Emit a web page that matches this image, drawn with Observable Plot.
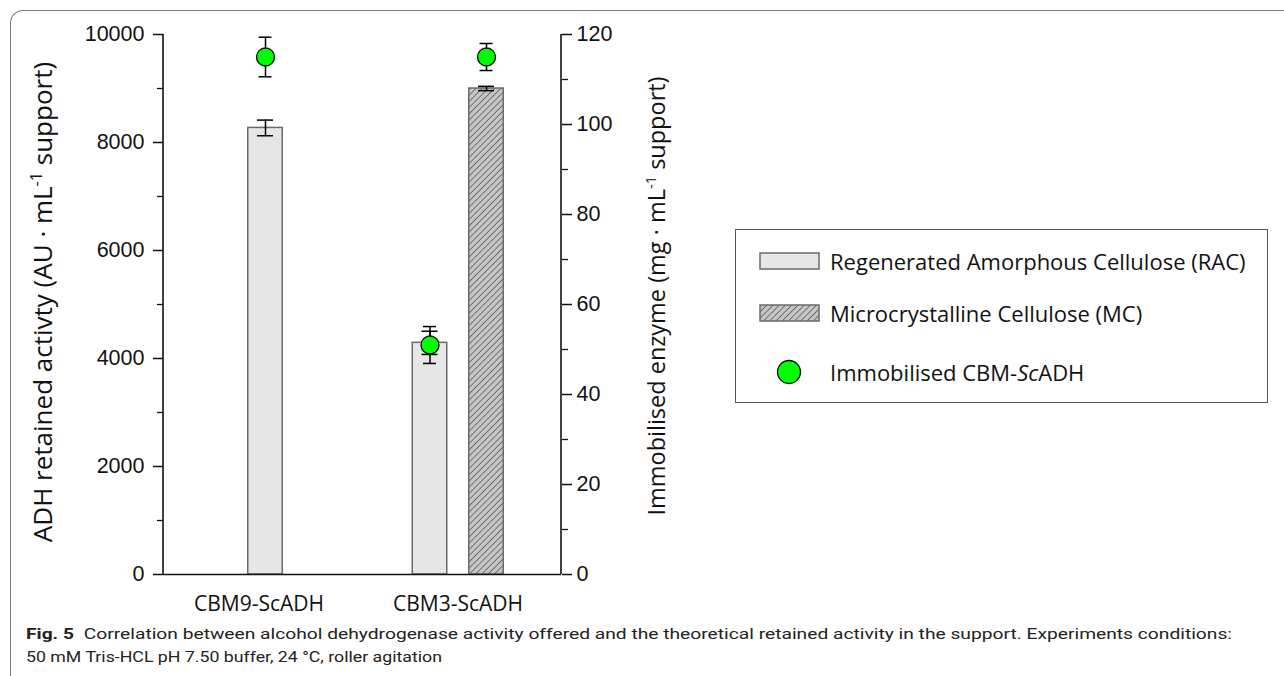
<!DOCTYPE html>
<html>
<head>
<meta charset="utf-8">
<script src="https://cdn.jsdelivr.net/npm/d3@7"></script>
<script src="https://cdn.jsdelivr.net/npm/@observablehq/plot@0.6"></script>
<style>
  body { margin: 0; background: #fff; }
  #wrap { position: relative; width: 1284px; height: 676px; overflow: hidden; background: #fff; }
  #frame { position: absolute; left: 10px; top: 10px; width: 1400px; height: 800px;
           border-left: 1.5px solid #7a7a7a; border-top: 1.5px solid #7a7a7a; border-top-left-radius: 13px; }
  #chart { position: absolute; left: 0; top: 0; }
  #legend { position: absolute; left: 735px; top: 229px; width: 533px; height: 174px;
            border: 1.5px solid #555; box-sizing: border-box; background: #fff;
            font-family: "Open Sans", sans-serif; font-size: 22px; color: #111; }
  .lg-item { position: absolute; left: 0; height: 30px; width: 100%; }
  .lg-item svg { position: absolute; left: 0; top: 0; }
  .lg-item span { position: absolute; left: 94px; top: 0; line-height: 30px; white-space: nowrap; }
  #caption { position: absolute; left: 0; top: 620px; }
</style>
</head>
<body>
<div id="wrap">
  <div id="frame"></div>
  <div id="chart"></div>
  <div id="legend"></div>
  <svg id="caption" width="1284" height="56"></svg>
</div>
<script>
// ---------------- data ----------------
const categories = ["CBM9-ScADH", "CBM3-ScADH"];
const seriesKeys = ["RAC", "MC"];
const seriesNames = ["Regenerated Amorphous Cellulose (RAC)", "Microcrystalline Cellulose (MC)"];
const dotSeriesName = ["Immobilised CBM-", "Sc", "ADH"];
// ADH retained activity (left axis, AU · mL-1 support)
const racActivity = [8270, 4290];
const racActivityErr = [145, 215];
const mcActivity = [null, 9000];
const mcActivityErr = [null, 40];
// Immobilised enzyme (right axis, mg · mL-1 support)
const racEnzyme = [115, 51];
const racEnzymeErr = [4.4, 4.1];
const mcEnzyme = [null, 115];
const mcEnzymeErr = [null, 3];
// axes
const leftTicks = [0, 2000, 4000, 6000, 8000, 10000];
const leftMinorTicks = [1000, 3000, 5000, 7000, 9000];
const rightTicks = [0, 20, 40, 60, 80, 100, 120];
const rightMinorTicks = [10, 30, 50, 70, 90, 110];
const leftMax = 10000, rightMax = 120;
const leftTitle = ["ADH retained activty (AU · mL", "-1", " support)"];
const rightTitle = ["Immobilised enzyme (mg · mL", "-1", " support)"];
const captionBold = "Fig. 5";
const captionLine1 = "Correlation between alcohol dehydrogenase activity offered and the theoretical retained activity in the support. Experiments conditions:";
const captionLine2 = "50 mM Tris-HCL pH 7.50 buffer, 24 °C, roller agitation";

// ---------------- table ----------------
const activity = {RAC: racActivity, MC: mcActivity};
const activityErr = {RAC: racActivityErr, MC: mcActivityErr};
const enzyme = {RAC: racEnzyme, MC: mcEnzyme};
const enzymeErr = {RAC: racEnzymeErr, MC: mcEnzymeErr};
const rows = [];
categories.forEach((c, i) => seriesKeys.forEach(s => {
  if (activity[s][i] == null) return;
  rows.push({category: c, series: s, activity: activity[s][i], err: activityErr[s][i],
             enzyme: enzyme[s][i], enzymeErr: enzymeErr[s][i]});
}));
const toLeft = v => v * leftMax / rightMax;

// ---------------- layout / style ----------------
const W = 1284, H = 625;
const xRange = [158.5, 556.5];
const bandwidth = (xRange[1] - xRange[0]) / categories.length;
const barW = 34.5, barCap = 16, dotCap = 13;
const slotShift = {"CBM9-ScADH|RAC": 6.5, "CBM3-ScADH|RAC": -28, "CBM3-ScADH|MC": 28.5};
const barInset = (bandwidth - barW) / 2;
const barCapInset = (bandwidth - barCap) / 2;
const dotCapInset = (bandwidth - dotCap) / 2;
const tickFont = "Liberation Sans, Arial, sans-serif";
const labelFont = "Open Sans, sans-serif";

function decorations(index, scales, values, dim) {
  const g = d3.create("svg:g");
  const defs = g.append("defs");
  const pat = defs.append("pattern").attr("id", "hatchMC").attr("patternUnits", "userSpaceOnUse")
    .attr("width", 4.4).attr("height", 4.4).attr("patternTransform", "rotate(45)");
  pat.append("rect").attr("width", 4.4).attr("height", 4.4).attr("fill", "#c6c6c6");
  pat.append("line").attr("x1", 0).attr("y1", 0).attr("x2", 0).attr("y2", 4.4)
    .attr("stroke", "#2a2a2a").attr("stroke-width", 1.1);
  const left = dim.marginLeft, right = dim.width - dim.marginRight;
  const top = dim.marginTop, bottom = dim.height - dim.marginBottom;
  g.append("line").attr("x1", left).attr("x2", left).attr("y1", top).attr("y2", bottom)
    .attr("stroke", "#111").attr("stroke-width", 1.6);
  g.append("line").attr("x1", right).attr("x2", right).attr("y1", top).attr("y2", bottom)
    .attr("stroke", "#111").attr("stroke-width", 1.6);
  function title(parts, x, y, size) {
    const t = g.append("text").attr("transform", `translate(${x},${y}) rotate(-90)`)
      .attr("text-anchor", "middle").attr("font-family", labelFont).attr("font-size", size)
      .attr("fill", "#111").attr("dy", "0.35em");
    t.append("tspan").text(parts[0]);
    t.append("tspan").attr("font-size", size * 0.62).attr("dy", -size * 0.4).text(parts[1]);
    t.append("tspan").attr("dy", size * 0.4).text(parts[2]);
  }
  title(leftTitle, 43, 302, 26);
  title(rightTitle, 657, 296, 23.5);
  return g.node();
}

const marks = [decorations];
rows.forEach(r => {
  const dx = slotShift[r.category + "|" + r.series];
  marks.push(
    Plot.barY([r], {x: "category", y: "activity", dx, insetLeft: barInset, insetRight: barInset,
      fill: r.series === "MC" ? "url(#hatchMC)" : "#e6e6e6", stroke: "#6a6a6a", strokeWidth: 1.5})
  );
});
marks.push(Plot.ruleY([0], {stroke: "#111", strokeWidth: 1.6}));
rows.forEach(r => {
  const dx = slotShift[r.category + "|" + r.series];
  const one = [r];
  marks.push(
    Plot.ruleX(one, {x: "category", y1: d => d.activity - d.err, y2: d => d.activity + d.err, dx, stroke: "#000", strokeWidth: 1.5}),
    Plot.tickY(one, {x: "category", y: d => d.activity - d.err, dx, insetLeft: barCapInset, insetRight: barCapInset, stroke: "#000", strokeWidth: 1.5}),
    Plot.tickY(one, {x: "category", y: d => d.activity + d.err, dx, insetLeft: barCapInset, insetRight: barCapInset, stroke: "#000", strokeWidth: 1.5}),
    Plot.ruleX(one, {x: "category", y1: d => toLeft(d.enzyme - d.enzymeErr), y2: d => toLeft(d.enzyme + d.enzymeErr), dx, stroke: "#000", strokeWidth: 1.5}),
    Plot.tickY(one, {x: "category", y: d => toLeft(d.enzyme - d.enzymeErr), dx, insetLeft: dotCapInset, insetRight: dotCapInset, stroke: "#000", strokeWidth: 1.5}),
    Plot.tickY(one, {x: "category", y: d => toLeft(d.enzyme + d.enzymeErr), dx, insetLeft: dotCapInset, insetRight: dotCapInset, stroke: "#000", strokeWidth: 1.5}),
    Plot.dot(one, {x: "category", y: d => toLeft(d.enzyme), dx, r: 9, fill: "#00ff00", stroke: "#000", strokeWidth: 1.3})
  );
});
marks.push(
  Plot.axisY({anchor: "left", ticks: leftTicks, tickFormat: d => String(d), tickSize: 10, tickPadding: 9,
    strokeWidth: 1.5, label: null, fontSize: 21.5, fontFamily: tickFont, fill: "#111"}),
  Plot.axisY({anchor: "left", ticks: leftMinorTicks, tickFormat: () => "", tickSize: 6, strokeWidth: 1.3, label: null}),
  Plot.axisY({anchor: "right", ticks: rightTicks.map(toLeft), tickFormat: d => String(Math.round(d * rightMax / leftMax)),
    tickSize: 10, tickPadding: 5, strokeWidth: 1.5, label: null, fontSize: 21.5, fontFamily: tickFont, fill: "#111"}),
  Plot.axisY({anchor: "right", ticks: rightMinorTicks.map(toLeft), tickFormat: () => "", tickSize: 6, strokeWidth: 1.3, label: null}),
  Plot.axisX({tickSize: 0, tickPadding: 22, label: null, fontSize: 21, fontFamily: labelFont, fill: "#111"})
);

const chart = Plot.plot({
  width: W, height: H,
  marginLeft: 163, marginRight: 723, marginTop: 34, marginBottom: 51,
  style: {background: "transparent", color: "#111", overflow: "visible"},
  x: {type: "band", domain: categories, range: xRange, padding: 0, axis: null},
  y: {domain: [0, leftMax], axis: null},
  marks
});
document.getElementById("chart").appendChild(chart);

// ---------------- legend ----------------
const legend = d3.select("#legend");
function legendItem(top) {
  return legend.append("div").attr("class", "lg-item").style("top", top + "px");
}
const it1 = legendItem(16);
const s1 = it1.append("svg").attr("width", 90).attr("height", 30);
s1.append("rect").attr("x", 24).attr("y", 7).attr("width", 59).attr("height", 16)
  .attr("fill", "#e6e6e6").attr("stroke", "#6a6a6a").attr("stroke-width", 1.5);
it1.append("span").text(seriesNames[0]);
const it2 = legendItem(68);
const s2 = it2.append("svg").attr("width", 90).attr("height", 30);
const p2 = s2.append("defs").append("pattern").attr("id", "hatchLg").attr("patternUnits", "userSpaceOnUse")
  .attr("width", 4.4).attr("height", 4.4).attr("patternTransform", "rotate(45)");
p2.append("rect").attr("width", 4.4).attr("height", 4.4).attr("fill", "#c6c6c6");
p2.append("line").attr("x1", 0).attr("y1", 0).attr("x2", 0).attr("y2", 4.4).attr("stroke", "#2a2a2a").attr("stroke-width", 1.1);
s2.append("rect").attr("x", 24).attr("y", 7).attr("width", 59).attr("height", 16)
  .attr("fill", "url(#hatchLg)").attr("stroke", "#6a6a6a").attr("stroke-width", 1.5);
it2.append("span").text(seriesNames[1]);
const it3 = legendItem(127);
const s3 = it3.append("svg").attr("width", 90).attr("height", 30);
s3.append("circle").attr("cx", 53).attr("cy", 15).attr("r", 11.5)
  .attr("fill", "#00ff00").attr("stroke", "#000").attr("stroke-width", 1.3);
const sp3 = it3.append("span");
sp3.append("tspan").text(dotSeriesName[0]);
sp3.append("i").text(dotSeriesName[1]);
sp3.append("tspan").text(dotSeriesName[2]);

// ---------------- caption ----------------
const cap = d3.select("#caption");
const capFont = "Roboto, 'Open Sans', sans-serif";
const l1 = cap.append("text").attr("x", 26).attr("y", 19).attr("font-family", capFont).attr("font-size", 15.5)
  .attr("fill", "#222").attr("textLength", 1206).attr("lengthAdjust", "spacingAndGlyphs");
l1.append("tspan").attr("font-weight", "bold").text(captionBold);
l1.append("tspan").text("\u2002" + captionLine1);
cap.append("text").attr("x", 26).attr("y", 41.5).attr("font-family", capFont).attr("font-size", 15.5)
  .attr("fill", "#222").attr("textLength", 416).attr("lengthAdjust", "spacingAndGlyphs").text(captionLine2);
</script>
</body>
</html>
